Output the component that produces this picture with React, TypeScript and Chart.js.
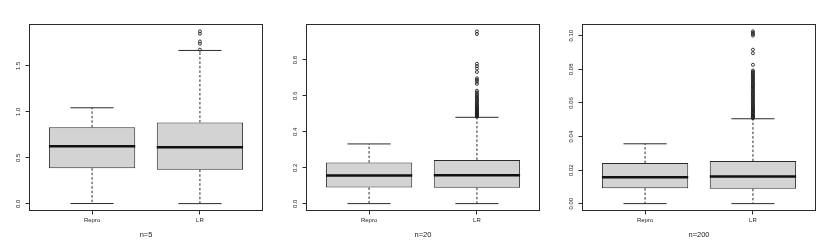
import React, { useEffect, useRef } from 'react';
import { Chart, registerables } from 'chart.js';

Chart.register(...registerables);

// ---------- data ----------
const categories = ['Repro', 'LR'];
const panelTitles = ['n=5', 'n=20', 'n=200'];

// five-number summaries: [lower whisker, Q1, median, Q3, upper whisker]
const reproN5 = [0.003, 0.387, 0.624, 0.831, 1.043];
const lrN5 = [0.002, 0.370, 0.615, 0.884, 1.666];
const reproN5Outliers: number[] = [];
const lrN5Outliers = [1.873, 1.848, 1.763, 1.739, 1.674];

const reproN20 = [0.001, 0.091, 0.157, 0.229, 0.333];
const lrN20 = [0.001, 0.089, 0.159, 0.244, 0.481];
const reproN20Outliers: number[] = [];
const lrN20Outliers = [
  0.959, 0.944, 0.779, 0.765, 0.752, 0.733, 0.698, 0.689, 0.679, 0.667, 0.629, 0.620,
  0.611, 0.604, 0.597, 0.590, 0.583, 0.577, 0.570, 0.564, 0.558, 0.552, 0.547, 0.542,
  0.537, 0.533, 0.528, 0.524, 0.520, 0.516, 0.512, 0.508, 0.505, 0.502, 0.499, 0.496,
  0.493, 0.490, 0.488, 0.486, 0.484,
];

const reproN200 = [0.0001, 0.0093, 0.0158, 0.0242, 0.0357];
const lrN200 = [0.0001, 0.0089, 0.0163, 0.0254, 0.0506];
const reproN200Outliers: number[] = [];
const lrN200Outliers = [
  0.1026, 0.1018, 0.1010, 0.1001, 0.0917, 0.0896, 0.0827, 0.0793, 0.0786, 0.0779,
  0.0772, 0.0765, 0.0758, 0.0752, 0.0746, 0.0740, 0.0733, 0.0726, 0.0720, 0.0713,
  0.0706, 0.0700, 0.0694, 0.0687, 0.0680, 0.0674, 0.0668, 0.0660, 0.0654, 0.0647,
  0.0640, 0.0634, 0.0627, 0.0620, 0.0614, 0.0608, 0.0601, 0.0595, 0.0588, 0.0582,
  0.0575, 0.0570, 0.0564, 0.0558, 0.0553, 0.0548, 0.0543, 0.0538, 0.0533, 0.0528,
  0.0524, 0.0520, 0.0516, 0.0512, 0.0509,
];

const yTicksN5 = [0, 0.5, 1.0, 1.5];
const yTickLabelsN5 = ['0.0', '0.5', '1.0', '1.5'];
const yTicksN20 = [0, 0.2, 0.4, 0.6, 0.8];
const yTickLabelsN20 = ['0.0', '0.2', '0.4', '0.6', '0.8'];
const yTicksN200 = [0, 0.02, 0.04, 0.06, 0.08, 0.1];
const yTickLabelsN200 = ['0.00', '0.02', '0.04', '0.06', '0.08', '0.10'];

// ---------- styling ----------
const FONT = "'Liberation Sans', Arial, Helvetica, sans-serif";
const TEXT = '#222';
const LINE = '#2a2a2a';
const BOX_HALF = 0.4;
const CAP_HALF = 0.2;
const PLOT_LEFT = 29.5;
const PLOT_RIGHT = 262.5;
const PLOT_TOP = 24.5;
const PLOT_BOTTOM = 210.5;
const H = 242;

type PanelProps = {
  title: string;
  summaries: number[][];
  outliers: number[][];
  yTicks: number[];
  yTickLabels: string[];
  left: number;
  width: number;
};

function BoxPanel(p: PanelProps) {
  const ref = useRef<HTMLCanvasElement>(null);

  useEffect(() => {
    if (!ref.current) return;
    const centers = categories.map((_, i) => i + 1);
    const all = [...p.summaries.flat(), ...p.outliers.flat()];
    const lo = Math.min(...all);
    const hi = Math.max(...all);
    const yPad = (hi - lo) * 0.04;
    const xLo = centers[0] - 0.5;
    const xHi = centers[centers.length - 1] + 0.5;
    const xPad = (xHi - xLo) * 0.04;

    const gap = (x: number) => ({ x, y: null as any });
    const medianData: any[] = [];
    const whiskerData: any[] = [];
    const capData: any[] = [];
    const outlierData: any[] = [];
    p.summaries.forEach((s, i) => {
      const c = centers[i];
      medianData.push({ x: c - BOX_HALF, y: s[2] }, { x: c + BOX_HALF, y: s[2] }, gap(c));
      whiskerData.push({ x: c, y: s[3] }, { x: c, y: s[4] }, gap(c), { x: c, y: s[1] }, { x: c, y: s[0] }, gap(c));
      capData.push(
        { x: c - CAP_HALF, y: s[4] }, { x: c + CAP_HALF, y: s[4] }, gap(c),
        { x: c - CAP_HALF, y: s[0] }, { x: c + CAP_HALF, y: s[0] }, gap(c)
      );
      p.outliers[i].forEach((v) => outlierData.push({ x: c, y: v }));
    });

    const framePlugin = {
      id: 'frame',
      afterDraw(chart: any) {
        const { ctx, chartArea } = chart;
        const s = chart.scales.y;
        ctx.save();
        ctx.strokeStyle = LINE;
        ctx.lineWidth = 1;
        ctx.strokeRect(chartArea.left, chartArea.top, chartArea.right - chartArea.left, chartArea.bottom - chartArea.top);
        ctx.font = `6px ${FONT}`;
        ctx.fillStyle = TEXT;
        ctx.textAlign = 'center';
        ctx.textBaseline = 'middle';
        p.yTicks.forEach((v, i) => {
          const y = s.getPixelForValue(v);
          ctx.save();
          ctx.translate(chartArea.left - 11, y);
          ctx.rotate(-Math.PI / 2);
          ctx.fillText(p.yTickLabels[i], 0, 0);
          ctx.restore();
        });
        ctx.restore();
      },
    };

    const lineBase = {
      type: 'line' as const,
      pointRadius: 0,
      fill: false,
      tension: 0,
      spanGaps: false,
      borderCapStyle: 'butt' as const,
      order: 0,
    };

    const chart = new Chart(ref.current, {
      type: 'bar',
      data: {
        datasets: [
          {
            type: 'bar',
            data: p.summaries.map((s, i) => ({ x: centers[i], y: [s[1], s[3]] })) as any,
            backgroundColor: '#d3d3d3',
            borderColor: LINE,
            borderWidth: 1,
            borderSkipped: false,
            barPercentage: 0.8,
            categoryPercentage: 1,
            order: 10,
          } as any,
          { ...lineBase, data: medianData, borderColor: '#111', borderWidth: 2.5 } as any,
          { ...lineBase, data: whiskerData, borderColor: LINE, borderWidth: 1, borderDash: [2.5, 2] } as any,
          { ...lineBase, data: capData, borderColor: LINE, borderWidth: 1 } as any,
          {
            type: 'line',
            data: outlierData,
            showLine: false,
            pointRadius: 1.5,
            pointBorderWidth: 0.9,
            pointBackgroundColor: 'rgba(0,0,0,0)',
            pointBorderColor: '#222',
            order: 0,
          } as any,
        ],
      },
      options: {
        animation: false,
        responsive: true,
        maintainAspectRatio: false,
        events: [],
        layout: { padding: { left: 0, top: PLOT_TOP, right: p.width - PLOT_RIGHT, bottom: 0 } },
        plugins: { legend: { display: false }, tooltip: { enabled: false } },
        scales: {
          x: {
            type: 'linear',
            offset: false,
            min: xLo - xPad,
            max: xHi + xPad,
            afterBuildTicks: (s: any) => { s.ticks = centers.map((v) => ({ value: v })); },
            afterFit: (s: any) => { s.height = H - PLOT_BOTTOM; },
            grid: { display: true, offset: false, drawOnChartArea: false, drawTicks: true, tickLength: 4, color: LINE, lineWidth: 1 },
            border: { display: false },
            ticks: {
              autoSkip: false,
              maxRotation: 0,
              minRotation: 0,
              padding: 2.6,
              color: TEXT,
              font: { family: FONT, size: 6 },
              callback: (_v: any, i: number) => categories[i],
            },
            title: {
              display: true,
              text: p.title,
              color: TEXT,
              font: { family: FONT, size: 7.5 },
              padding: { top: 0, bottom: 2.5 },
            },
          },
          y: {
            type: 'linear',
            min: lo - yPad,
            max: hi + yPad,
            afterBuildTicks: (s: any) => { s.ticks = p.yTicks.map((v) => ({ value: v })); },
            afterFit: (s: any) => { s.width = PLOT_LEFT; },
            grid: { display: true, drawOnChartArea: false, drawTicks: true, tickLength: 4, color: LINE, lineWidth: 1 },
            border: { display: false },
            ticks: { display: false },
          },
        },
      } as any,
      plugins: [framePlugin],
    });
    return () => chart.destroy();
  }, []);

  return (
    <div style={{ position: 'absolute', left: p.left, top: 0, width: p.width, height: H }}>
      <canvas ref={ref} />
    </div>
  );
}

export default function App() {
  const W = 830;
  const edges = [0, 1, 2, 3].map((i) => Math.round((i * W) / 3));
  const panels = [
    { summaries: [reproN5, lrN5], outliers: [reproN5Outliers, lrN5Outliers], yTicks: yTicksN5, yTickLabels: yTickLabelsN5 },
    { summaries: [reproN20, lrN20], outliers: [reproN20Outliers, lrN20Outliers], yTicks: yTicksN20, yTickLabels: yTickLabelsN20 },
    { summaries: [reproN200, lrN200], outliers: [reproN200Outliers, lrN200Outliers], yTicks: yTicksN200, yTickLabels: yTickLabelsN200 },
  ];
  return (
    <div style={{ position: 'fixed', left: 0, top: 0, width: W, height: H, background: '#fff' }}>
      {panels.map((pp, i) => (
        <BoxPanel
          key={i}
          title={panelTitles[i]}
          summaries={pp.summaries}
          outliers={pp.outliers}
          yTicks={pp.yTicks}
          yTickLabels={pp.yTickLabels}
          left={edges[i]}
          width={edges[i + 1] - edges[i]}
        />
      ))}
    </div>
  );
}
